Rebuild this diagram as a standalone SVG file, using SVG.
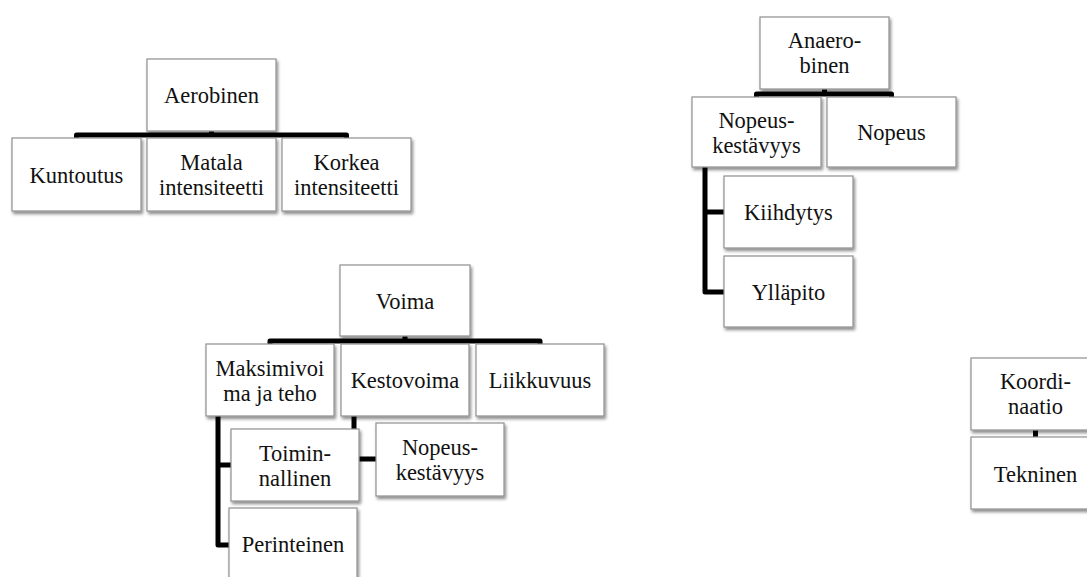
<svg xmlns="http://www.w3.org/2000/svg" width="1087" height="577" viewBox="0 0 1087 577">
  <style>
    .box { fill: #ffffff; stroke: #8f8f8f; stroke-width: 1.2; filter: url(#shadow); }
    .lbl { font-family: 'Liberation Serif', 'Times New Roman', Tinos, 'DejaVu Serif', serif; font-size: 22.5px; fill: #111111; text-anchor: middle; }
    .conn { fill: none; stroke: #000000; stroke-width: 5; stroke-linejoin: round; stroke-linecap: round; }
  </style>
  <defs>
    <filter id="shadow" x="-10%" y="-10%" width="125%" height="130%">
      <feDropShadow dx="1.5" dy="2.5" stdDeviation="1.8" flood-color="#000000" flood-opacity="0.45"/>
    </filter>
  </defs>
  <rect width="1087" height="577" fill="#ffffff"/>

  <!-- connectors, drawn first so the boxes sit on top of them -->
  <g id="connectors">
    <path class="conn" d="M211.5,131 V135 M76.5,138 V135 H346.5 V138"/>
    <path class="conn" d="M824.5,89 V94 M756.5,97 V94 H891.5 V97"/>
    <path class="conn" d="M705,167 V292 H724 M705,212 H724"/>
    <path class="conn" d="M405,336 V341 M270,344 V341 H540 V344"/>
    <path class="conn" d="M218,416 V545 H229 M218,465 H231"/>
    <path class="conn" d="M354,416 V459 H376"/>
    <path class="conn" stroke-linecap="butt" d="M1035.5,430 V437"/>
  </g>

  <!-- Aerobinen -->
  <g id="aerobinen">
    <rect class="box" x="147" y="59" width="129" height="72"/>
    <text class="lbl" x="211.5" y="103">Aerobinen</text>
  </g>
  <g id="kuntoutus">
    <rect class="box" x="12" y="138" width="129" height="73"/>
    <text class="lbl" x="76.5" y="182.5">Kuntoutus</text>
  </g>
  <g id="matala">
    <rect class="box" x="147" y="138" width="129" height="73"/>
    <text class="lbl" x="211.5" y="170">Matala</text>
    <text class="lbl" x="211.5" y="195">intensiteetti</text>
  </g>
  <g id="korkea">
    <rect class="box" x="282" y="138" width="129" height="73"/>
    <text class="lbl" x="346.5" y="170">Korkea</text>
    <text class="lbl" x="346.5" y="195">intensiteetti</text>
  </g>

  <!-- Anaerobinen -->
  <g id="anaerobinen">
    <rect class="box" x="760" y="17" width="129" height="72"/>
    <text class="lbl" x="824.5" y="47.5">Anaero-</text>
    <text class="lbl" x="824.5" y="72.5">binen</text>
  </g>
  <g id="nopeuskestavyys-a">
    <rect class="box" x="692" y="97" width="129" height="70"/>
    <text class="lbl" x="756.5" y="127.5">Nopeus-</text>
    <text class="lbl" x="756.5" y="152.5">kestävyys</text>
  </g>
  <g id="nopeus">
    <rect class="box" x="827" y="97" width="129" height="70"/>
    <text class="lbl" x="891.5" y="140">Nopeus</text>
  </g>
  <g id="kiihdytys">
    <rect class="box" x="724" y="176" width="129" height="72"/>
    <text class="lbl" x="788.5" y="220">Kiihdytys</text>
  </g>
  <g id="yllapito">
    <rect class="box" x="724" y="256" width="129" height="71"/>
    <text class="lbl" x="788.5" y="299.5">Ylläpito</text>
  </g>

  <!-- Voima -->
  <g id="voima">
    <rect class="box" x="340" y="265" width="130" height="71"/>
    <text class="lbl" x="405" y="308.5">Voima</text>
  </g>
  <g id="maksimivoima">
    <rect class="box" x="206" y="344" width="128" height="72"/>
    <text class="lbl" x="270" y="375.5">Maksimivoi</text>
    <text class="lbl" x="270" y="400.5">ma ja teho</text>
  </g>
  <g id="kestovoima">
    <rect class="box" x="341" y="344" width="128" height="72"/>
    <text class="lbl" x="405" y="388">Kestovoima</text>
  </g>
  <g id="liikkuvuus">
    <rect class="box" x="476" y="344" width="128" height="72"/>
    <text class="lbl" x="540" y="388">Liikkuvuus</text>
  </g>
  <g id="toiminnallinen">
    <rect class="box" x="231" y="429" width="128" height="72"/>
    <text class="lbl" x="295" y="460.5">Toimin-</text>
    <text class="lbl" x="295" y="485.5">nallinen</text>
  </g>
  <g id="nopeuskestavyys-v">
    <rect class="box" x="376" y="423" width="128" height="73"/>
    <text class="lbl" x="440" y="455">Nopeus-</text>
    <text class="lbl" x="440" y="480">kestävyys</text>
  </g>
  <g id="perinteinen">
    <rect class="box" x="229" y="508" width="128" height="72"/>
    <text class="lbl" x="293" y="552">Perinteinen</text>
  </g>

  <!-- Koordinaatio -->
  <g id="koordinaatio">
    <rect class="box" x="971" y="358" width="129" height="72"/>
    <text class="lbl" x="1035.5" y="389">Koordi-</text>
    <text class="lbl" x="1035.5" y="414">naatio</text>
  </g>
  <g id="tekninen">
    <rect class="box" x="971" y="437" width="129" height="72"/>
    <text class="lbl" x="1035.5" y="481.5">Tekninen</text>
  </g>
</svg>
